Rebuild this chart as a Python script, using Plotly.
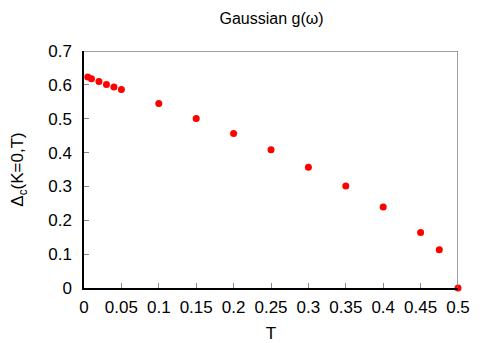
import plotly.graph_objects as go

T = [0.005, 0.01, 0.02, 0.03, 0.04, 0.05, 0.1, 0.15, 0.2, 0.25, 0.3, 0.35, 0.4, 0.45, 0.475, 0.5]
delta_c = [0.623, 0.618, 0.610, 0.601, 0.594, 0.586, 0.545, 0.501, 0.456, 0.408, 0.357, 0.301, 0.239, 0.164, 0.113, 0.0]

xticks = [0, 0.05, 0.1, 0.15, 0.2, 0.25, 0.3, 0.35, 0.4, 0.45, 0.5]
xtick_text = ["0", "0.05", "0.1", "0.15", "0.2", "0.25", "0.3", "0.35", "0.4", "0.45", "0.5"]
yticks = [0, 0.1, 0.2, 0.3, 0.4, 0.5, 0.6, 0.7]
ytick_text = ["0", "0.1", "0.2", "0.3", "0.4", "0.5", "0.6", "0.7"]

fnt = "Liberation Sans, Arial, sans-serif"

fig = go.Figure()
fig.add_trace(go.Scatter(
    x=T, y=delta_c, mode="markers",
    marker=dict(color="#ff0000", size=7, line=dict(width=0)),
    cliponaxis=False, showlegend=False
))

# mirror border (gnuplot style box)
fig.add_trace(go.Scatter(x=[0, 0.5, 0.5], y=[0.7, 0.7, 0], mode="lines",
                         line=dict(color="#808080", width=1.5),
                         hoverinfo="skip", showlegend=False, cliponaxis=False))

fig.update_layout(
    width=491, height=343,
    margin=dict(l=84, r=33, t=51, b=55, autoexpand=False),
    paper_bgcolor="white", plot_bgcolor="white",
    font=dict(family=fnt, size=17, color="black"),
    title=dict(text="Gaussian g(ω)", x=0.553, xanchor="center",
               y=1 - 18 / 343, yanchor="middle", yref="container",
               font=dict(size=16)),
    xaxis=dict(range=[0, 0.5], tickvals=xticks, ticktext=xtick_text,
               showgrid=False, zeroline=False, showline=True,
               linecolor="black", linewidth=1.5, automargin=False,
               ticks="inside", ticklen=5, tickcolor="#888888",
               ticklabelstandoff=3,
               title=dict(text="T", standoff=11, font=dict(size=17))),
    yaxis=dict(range=[0, 0.7], tickvals=yticks, ticktext=ytick_text,
               showgrid=False, zeroline=False, showline=True,
               linecolor="black", linewidth=1.5, automargin=False,
               ticks="inside", ticklen=5, tickcolor="#888888",
               ticklabelstandoff=7,
               title=dict(text="Δ<sub>c</sub>(K=0,T)", standoff=20, font=dict(size=17))),
)

fig.write_html("out.html", config={"displayModeBar": False},
               post_script="document.body.style.margin='0px';")
